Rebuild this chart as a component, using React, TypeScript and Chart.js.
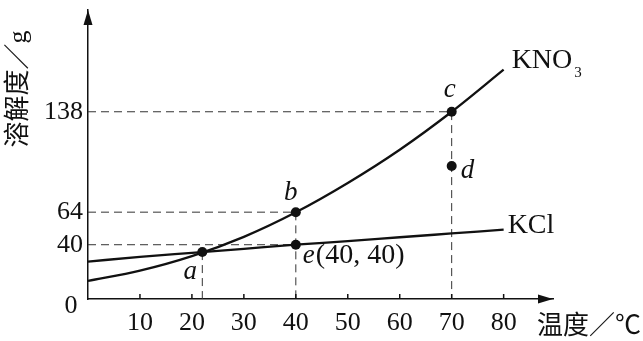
import React, { useEffect, useRef } from 'react';
import { Chart, registerables } from 'chart.js';

Chart.register(...registerables);

// ---- data ----
const temps = [0, 10, 20, 30, 40, 50, 60, 70, 80];
const kno3 = [13.3, 20.9, 31.6, 45.8, 63.9, 85.5, 110, 138, 169];
const kcl = [27.6, 31.0, 34.0, 37.0, 40.0, 42.6, 45.5, 48.3, 51.1];
const xTicks = [10, 20, 30, 40, 50, 60, 70, 80];
const yTicks = [0, 40, 64, 138];
const pointNames = ['a', 'b', 'c', 'd', 'e'];
const pointX = [22, 40, 70, 70, 40];
const pointY = [34.6, 64, 138, 98, 40];
const seriesNames = ['KNO', 'KCl'];
const xTitle = '温度／℃';
const yTitle = '溶解度／g';

const SERIF = '"Liberation Serif", "Noto Sans CJK SC", serif';

export default function App() {
  const ref = useRef<HTMLCanvasElement | null>(null);

  useEffect(() => {
    const canvas = ref.current;
    if (!canvas) return;
    const P = (i: number) => ({ x: pointX[i], y: pointY[i] });
    // guide lines (dashed) derived from the labelled points
    const guides = [
      [P(0), { x: pointX[0], y: 0 }], // a vertical
      [{ x: 0, y: pointY[1] }, P(1), { x: pointX[1], y: 0 }], // b
      [{ x: 0, y: pointY[2] }, P(2), { x: pointX[2], y: 0 }], // c
      [{ x: 0, y: pointY[4] }, P(4)], // e horizontal
    ];

    const overlay = {
      id: 'overlay',
      afterDatasetsDraw(chart: any) {
        const { ctx, chartArea, scales } = chart;
        const xs = scales.x;
        const ys = scales.y;
        const x0 = xs.getPixelForValue(0);
        const y0 = ys.getPixelForValue(0);
        ctx.save();
        ctx.fillStyle = '#111';
        ctx.strokeStyle = '#111';
        // arrows
        ctx.beginPath();
        ctx.moveTo(x0, chartArea.top);
        ctx.lineTo(x0 - 4.5, chartArea.top + 15);
        ctx.lineTo(x0 + 4.5, chartArea.top + 15);
        ctx.closePath();
        ctx.fill();
        ctx.beginPath();
        ctx.moveTo(chartArea.right, y0);
        ctx.lineTo(chartArea.right - 15, y0 - 4.5);
        ctx.lineTo(chartArea.right - 15, y0 + 4.5);
        ctx.closePath();
        ctx.fill();
        // inner tick marks
        ctx.lineWidth = 1.5;
        xTicks.forEach((v) => {
          const px = xs.getPixelForValue(v);
          ctx.beginPath();
          ctx.moveTo(px, y0);
          ctx.lineTo(px, y0 - 5);
          ctx.stroke();
        });
        // origin label
        ctx.font = '26px ' + SERIF;
        ctx.textAlign = 'center';
        ctx.textBaseline = 'alphabetic';
        ctx.fillText('0', x0 - 17, y0 + 14);

        // axis titles
        ctx.font = '26px ' + SERIF;
        ctx.textAlign = 'left';
        ctx.textBaseline = 'middle';
        ctx.fillText(xTitle, x0 + 449, y0 + 28);
        ctx.save();
        ctx.translate(19, 89);
        ctx.rotate(-Math.PI / 2);
        ctx.textAlign = 'center';
        ctx.fillText(yTitle, 0, 0);
        ctx.restore();

        // point labels
        ctx.textBaseline = 'alphabetic';
        const italic = 'italic 27px "Liberation Serif", serif';
        const upright = '28px "Liberation Serif", serif';
        const px = pointX.map((v) => xs.getPixelForValue(v));
        const py = pointY.map((v) => ys.getPixelForValue(v));
        ctx.font = italic;
        ctx.textAlign = 'center';
        ctx.fillText(pointNames[0], px[0] - 12, py[0] + 27);
        ctx.fillText(pointNames[1], px[1] - 5, py[1] - 12);
        ctx.fillText(pointNames[2], px[2] - 2, py[2] - 15);
        ctx.textAlign = 'left';
        ctx.fillText(pointNames[3], px[3] + 9, py[3] + 12);
        ctx.fillText(pointNames[4], px[4] + 7, py[4] + 18);
        const ew = ctx.measureText(pointNames[4]).width;
        ctx.font = upright;
        ctx.fillText('(' + pointX[4] + ', ' + pointY[4] + ')', px[4] + 7 + ew + 1, py[4] + 18);

        // series labels
        const last = temps.length - 1;
        const kx = xs.getPixelForValue(temps[last]);
        const kny = ys.getPixelForValue(kno3[last]);
        const kcy = ys.getPixelForValue(kcl[last]);
        ctx.font = upright;
        ctx.fillText(seriesNames[0], kx + 8, kny - 2);
        const nw = ctx.measureText(seriesNames[0]).width;
        ctx.font = '15px "Liberation Serif", serif';
        ctx.fillText('3', kx + 8 + nw + 2, kny + 7);
        ctx.font = upright;
        ctx.fillText(seriesNames[1], kx + 4, kcy + 3);
        ctx.restore();
      },
    };

    const chart = new Chart(canvas, {
      type: 'line',
      data: {
        datasets: [
          {
            type: 'scatter',
            data: pointX.map((_, i) => P(i)),
            pointRadius: 5,
            pointHoverRadius: 5,
            backgroundColor: '#111',
            borderColor: '#111',
            borderWidth: 0,
          } as any,
          {
            label: 'KNO3',
            data: temps.map((t, i) => ({ x: t, y: kno3[i] })),
            borderColor: '#111',
            borderWidth: 2.3,
            pointRadius: 0,
            cubicInterpolationMode: 'monotone',
            fill: false,
          },
          {
            label: 'KCl',
            data: temps.map((t, i) => ({ x: t, y: kcl[i] })),
            borderColor: '#111',
            borderWidth: 2.3,
            pointRadius: 0,
            cubicInterpolationMode: 'monotone',
            fill: false,
          },
          ...guides.map((g) => ({
            data: g,
            borderColor: '#333',
            borderWidth: 1,
            borderDash: [8, 5],
            pointRadius: 0,
            tension: 0,
            fill: false,
          })),
        ],
      },
      options: {
        animation: false,
        responsive: false,
        maintainAspectRatio: false,
        layout: { padding: { top: 10, right: 90, bottom: 0, left: 0 } },
        plugins: { legend: { display: false }, tooltip: { enabled: false } },
        scales: {
          x: {
            type: 'linear',
            min: 0,
            max: 89.5,
            grid: { display: false, drawTicks: false },
            border: { display: true, color: '#111', width: 1.5 },
            afterBuildTicks: (s: any) => {
              s.ticks = xTicks.map((v) => ({ value: v }));
            },
            afterFit: (s: any) => {
              s.height = 42;
              s.paddingLeft = 0;
              s.paddingRight = 0;
            },
            ticks: {
              autoSkip: false,
              maxRotation: 0,
              padding: 9,
              color: '#111',
              font: { family: SERIF, size: 26 },
            },
          },
          y: {
            type: 'linear',
            min: 0,
            max: 213,
            grid: { display: false, drawTicks: false },
            border: { display: true, color: '#111', width: 1.5 },
            afterBuildTicks: (s: any) => {
              s.ticks = yTicks.map((v) => ({ value: v }));
            },
            afterFit: (s: any) => {
              s.width = 88;
              s.paddingTop = 0;
              s.paddingBottom = 0;
            },
            ticks: {
              autoSkip: false,
              padding: 5,
              color: '#111',
              font: { family: SERIF, size: 26 },
              callback: (v: any) => (Number(v) === 0 ? '' : String(v)),
            },
          },
        },
      },
      plugins: [overlay],
    } as any);

    return () => chart.destroy();
  }, []);

  return (
    <div style={{ position: 'fixed', left: 0, top: 0, width: 643, height: 341, background: '#fff' }}>
      <canvas ref={ref} width={643} height={341} style={{ display: 'block' }} />
    </div>
  );
}
